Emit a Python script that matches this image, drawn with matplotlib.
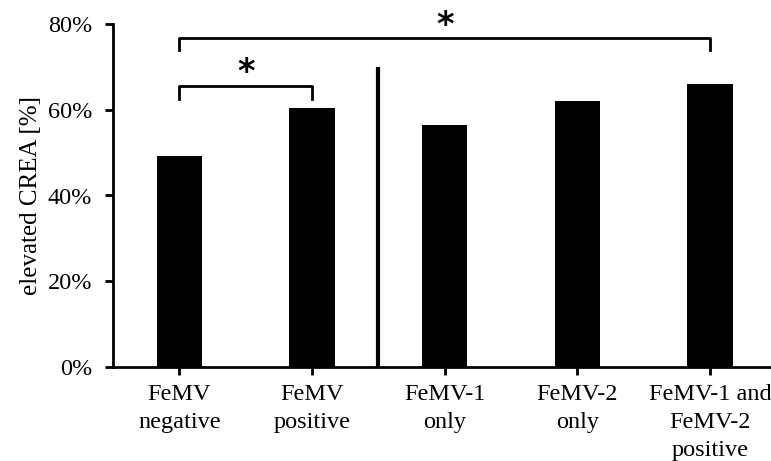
import matplotlib
matplotlib.use("Agg")
import matplotlib.pyplot as plt
from matplotlib.ticker import PercentFormatter

categories = ["FeMV\nnegative", "FeMV\npositive", "FeMV-1\nonly", "FeMV-2\nonly", "FeMV-1 and\nFeMV-2\npositive"]
values = [49.2, 60.4, 56.4, 62.1, 66.1]
yticks = [0, 20, 40, 60, 80]

plt.rcParams['font.family'] = ['Liberation Serif', 'DejaVu Serif']

fig = plt.figure(figsize=(7.71, 4.61), dpi=100)
ax = fig.add_axes([113/771, 94/461, 1 - 113/771, 343/461])

x = list(range(len(categories)))
ax.bar(x, values, width=0.34, color='black', zorder=2)

ax.set_xlim(-0.5, 4.46)
ax.set_ylim(0, 80)
ax.set_yticks(yticks)
ax.yaxis.set_major_formatter(PercentFormatter(decimals=0))
ax.set_xticks(x)
ax.set_xticklabels(categories, fontsize=17.5, linespacing=1.45)
ax.tick_params(axis='y', labelsize=17.5, width=2, length=6, direction='out', pad=9)
ax.tick_params(axis='x', width=2, length=6, direction='out', pad=6)
ax.set_ylabel("elevated CREA [%]", fontsize=18, labelpad=4)

for s in ['top', 'right']:
    ax.spines[s].set_visible(False)
for s in ['left', 'bottom']:
    ax.spines[s].set_linewidth(2)

# vertical divider
ax.plot([1.5, 1.5], [0, 70], color='black', lw=3, clip_on=False, solid_capstyle='butt')

# significance brackets
def bracket(x0, x1, ytop, ydrop, ystar):
    ax.plot([x0, x0, x1, x1], [ydrop, ytop, ytop, ydrop], color='black', lw=2, clip_on=False)
    ax.text((x0 + x1) / 2, ystar, "*", ha='center', va='center', fontsize=24, fontweight='bold',
            family='DejaVu Sans')

bracket(0, 1, 65.5, 62.6, 68.6)
bracket(0, 4, 76.7, 74.0, 79.6)

fig.savefig("out.png", dpi=100)
